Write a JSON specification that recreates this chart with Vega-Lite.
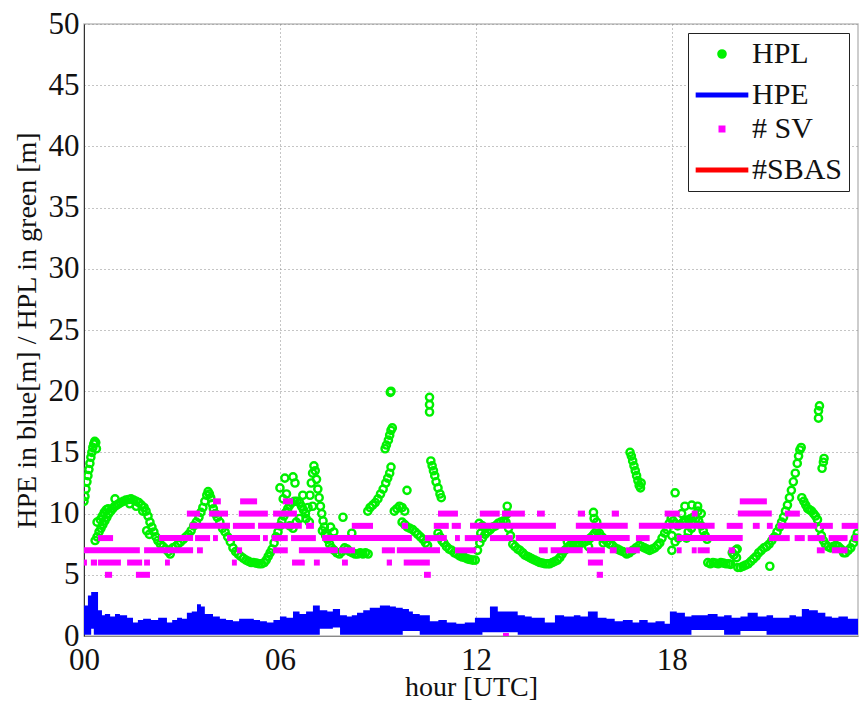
{
"$schema": "https://vega.github.io/schema/vega-lite/v6.json",
"width": 774, "height": 612,
"autosize": {"type": "none"},
"padding": {"left": 84, "top": 24, "right": 2, "bottom": 68},
"background": "white",
"config": {
  "font": "Liberation Serif",
  "style": {"guide-label": {"font": "Liberation Serif"}, "guide-title": {"font": "Liberation Serif"}},
  "view": {"stroke": "#bdbdbd", "strokeWidth": 1.5},
  "axis": {"labelFont": "Liberation Serif", "labelFontSize": 31, "labelColor": "#111", "titleFont": "Liberation Serif", "titleFontSize": 28, "titleFontWeight": "normal", "titleColor": "#111", "gridColor": "#8a8a8a", "gridDash": [1, 3], "gridWidth": 1, "ticks": false, "tickSize": 0, "labelOverlap": false, "labelFlush": false},
  "legend": {"orient": "none", "legendX": 604, "legendY": 9, "title": null, "labelFont": "Liberation Serif", "labelFontSize": 30, "labelColor": "#111", "padding": 6, "strokeColor": "#222", "fillColor": "white", "rowPadding": 4, "symbolOffset": 6, "labelOffset": 8, "symbolOpacity": 1}
},
"layer": [
{
  "data": {"values": [
{"h":0.00,"v":11.0},{"h":0.03,"v":11.4},{"h":0.06,"v":12.0},{"h":0.09,"v":12.6},{"h":0.12,"v":13.1},{"h":0.15,"v":13.6},{"h":0.18,"v":14.1},{"h":0.21,"v":14.6},{"h":0.24,"v":15.0},{"h":0.27,"v":15.4},{"h":0.30,"v":15.7},{"h":0.33,"v":15.9},{"h":0.36,"v":15.8},{"h":0.38,"v":15.3},
{"h":0.34,"v":7.8},{"h":0.40,"v":8.1},{"h":0.46,"v":8.5},{"h":0.52,"v":8.8},{"h":0.58,"v":9.1},{"h":0.64,"v":9.4},{"h":0.70,"v":9.7},{"h":0.76,"v":10.0},{"h":0.82,"v":10.2},{"h":0.88,"v":10.4},{"h":0.94,"v":10.6},{"h":1.00,"v":10.7},{"h":1.06,"v":10.8},{"h":1.12,"v":10.9},{"h":1.20,"v":11.0},{"h":1.28,"v":11.1},{"h":1.36,"v":11.15},{"h":1.44,"v":11.2},{"h":1.52,"v":11.1},{"h":1.60,"v":11.0},{"h":1.68,"v":10.9},{"h":1.76,"v":10.7},{"h":1.84,"v":10.5},{"h":1.90,"v":10.2},{"h":1.96,"v":9.8},{"h":2.02,"v":9.3},{"h":2.08,"v":8.9},{"h":2.14,"v":8.5},{"h":2.20,"v":8.1},{"h":2.26,"v":7.8},{"h":2.34,"v":7.5},{"h":2.42,"v":7.3},{"h":2.50,"v":7.1},{"h":2.58,"v":6.9},{"h":2.64,"v":6.7},
{"h":0.50,"v":9.5},{"h":0.56,"v":9.8},{"h":0.62,"v":10.1},{"h":0.68,"v":10.3},{"h":0.74,"v":10.4},{"h":0.40,"v":9.3},{"h":0.95,"v":11.2},{"h":1.92,"v":8.6},{"h":2.00,"v":8.3},{"h":1.40,"v":10.8},{"h":1.60,"v":10.6},{"h":1.80,"v":10.2},
{"h":2.72,"v":7.2},{"h":2.80,"v":7.3},{"h":2.88,"v":7.5},{"h":2.96,"v":7.7},{"h":3.04,"v":7.9},{"h":3.12,"v":8.1},{"h":3.20,"v":8.3},{"h":3.28,"v":8.6},{"h":3.36,"v":9.0},{"h":3.44,"v":9.3},{"h":3.52,"v":9.7},{"h":3.58,"v":10.1},{"h":3.64,"v":10.5},{"h":3.70,"v":11.0},{"h":3.76,"v":11.5},{"h":3.80,"v":11.8},{"h":3.84,"v":11.6},{"h":3.88,"v":11.3},{"h":3.92,"v":10.8},{"h":3.96,"v":10.4},{"h":4.02,"v":10.0},{"h":4.08,"v":9.7},{"h":4.16,"v":9.3},{"h":4.24,"v":8.8},{"h":4.32,"v":8.5},{"h":4.40,"v":8.1},{"h":4.48,"v":7.7},{"h":4.56,"v":7.2},{"h":4.64,"v":6.9},{"h":4.72,"v":6.7},{"h":4.80,"v":6.5},{"h":4.88,"v":6.35},{"h":4.96,"v":6.2},{"h":5.04,"v":6.1},{"h":5.12,"v":6.0},{"h":5.20,"v":6.0},{"h":5.28,"v":5.95},{"h":5.36,"v":5.9},{"h":5.44,"v":5.9},{"h":5.52,"v":6.0},{"h":5.58,"v":6.2},{"h":5.64,"v":6.5},{"h":5.70,"v":6.8},{"h":5.76,"v":7.1},{"h":5.82,"v":7.6},{"h":5.88,"v":8.1},{"h":5.94,"v":8.5},{"h":6.00,"v":9.0},{"h":6.06,"v":9.4},{"h":6.12,"v":9.8},{"h":6.18,"v":10.1},{"h":6.24,"v":10.4},
{"h":6.30,"v":10.7},{"h":6.36,"v":10.9},{"h":6.44,"v":11.0},{"h":6.52,"v":11.0},{"h":6.60,"v":10.9},{"h":6.66,"v":10.6},{"h":6.72,"v":10.3},{"h":6.78,"v":10.0},{"h":6.30,"v":9.0},{"h":6.40,"v":8.8},{"h":6.50,"v":9.3},{"h":6.60,"v":9.6},{"h":6.20,"v":11.6},{"h":6.10,"v":11.2},{"h":6.00,"v":12.1},{"h":6.15,"v":12.9},{"h":6.40,"v":13.0},{"h":6.46,"v":12.5},{"h":6.70,"v":11.5},{"h":6.80,"v":9.6},
{"h":6.86,"v":10.5},{"h":6.92,"v":11.5},{"h":6.96,"v":12.5},{"h":7.00,"v":13.3},{"h":7.04,"v":13.9},{"h":7.08,"v":13.5},{"h":7.12,"v":12.8},{"h":7.16,"v":12.0},{"h":7.20,"v":11.3},{"h":7.24,"v":10.6},{"h":7.28,"v":10.0},{"h":7.32,"v":9.4},{"h":7.36,"v":8.9},{"h":7.40,"v":8.4},{"h":7.46,"v":7.9},{"h":7.52,"v":7.5},{"h":7.58,"v":7.2},{"h":7.66,"v":7.0},{"h":7.74,"v":6.8},{"h":7.82,"v":6.7},{"h":7.90,"v":6.9},{"h":7.98,"v":7.2},{"h":8.06,"v":7.1},{"h":8.14,"v":6.9},{"h":8.22,"v":6.8},{"h":8.30,"v":6.7},{"h":8.38,"v":6.7},{"h":8.46,"v":6.8},{"h":8.54,"v":6.7},{"h":8.62,"v":6.8},{"h":8.70,"v":6.7},
{"h":7.30,"v":8.6},{"h":7.40,"v":8.2},{"h":7.55,"v":8.9},{"h":7.65,"v":8.5},{"h":7.93,"v":9.7},{"h":8.20,"v":8.4},{"h":7.00,"v":10.6},{"h":6.90,"v":9.3},
{"h":8.69,"v":10.2},{"h":8.76,"v":10.5},{"h":8.84,"v":10.7},{"h":8.92,"v":10.9},{"h":9.00,"v":11.2},{"h":9.08,"v":11.6},{"h":9.16,"v":12.0},{"h":9.24,"v":12.5},{"h":9.30,"v":12.9},{"h":9.36,"v":13.3},{"h":9.40,"v":13.8},{"h":9.22,"v":15.3},{"h":9.26,"v":15.6},{"h":9.32,"v":16.0},{"h":9.36,"v":16.4},{"h":9.40,"v":16.8},{"h":9.44,"v":17.0},{"h":9.38,"v":19.9},{"h":9.40,"v":20.0},
{"h":9.50,"v":10.2},{"h":9.58,"v":10.4},{"h":9.66,"v":10.6},{"h":9.74,"v":10.5},{"h":9.82,"v":10.2},{"h":9.89,"v":11.9},{"h":9.74,"v":9.3},{"h":9.82,"v":9.1},{"h":9.90,"v":8.9},{"h":9.98,"v":8.8},{"h":10.06,"v":8.7},{"h":10.14,"v":8.5},{"h":10.22,"v":8.3},{"h":10.30,"v":8.1},{"h":10.38,"v":7.9},{"h":10.46,"v":7.6},{"h":10.52,"v":7.4},
{"h":10.58,"v":19.5},{"h":10.58,"v":18.9},{"h":10.58,"v":18.3},{"h":10.62,"v":14.3},{"h":10.66,"v":13.9},{"h":10.70,"v":13.5},{"h":10.74,"v":13.1},{"h":10.78,"v":12.6},{"h":10.84,"v":12.1},{"h":10.90,"v":11.6},{"h":10.94,"v":11.3},
{"h":10.84,"v":8.4},{"h":10.90,"v":8.1},{"h":10.96,"v":7.8},{"h":11.02,"v":7.6},{"h":11.10,"v":7.3},{"h":11.18,"v":7.1},{"h":11.26,"v":7.0},{"h":11.34,"v":6.8},{"h":11.42,"v":6.7},{"h":11.50,"v":6.55},{"h":11.58,"v":6.45},{"h":11.66,"v":6.4},{"h":11.74,"v":6.3},{"h":11.82,"v":6.25},{"h":11.90,"v":6.2},{"h":11.98,"v":6.2},
{"h":12.05,"v":7.0},{"h":12.12,"v":7.6},{"h":12.20,"v":8.0},{"h":12.28,"v":8.3},{"h":12.36,"v":8.5},{"h":12.44,"v":8.7},{"h":12.52,"v":8.9},{"h":12.60,"v":9.0},{"h":12.68,"v":9.2},{"h":12.76,"v":9.3},{"h":12.84,"v":9.4},{"h":12.92,"v":9.3},{"h":12.96,"v":10.0},{"h":12.96,"v":10.6},{"h":13.00,"v":8.8},{"h":13.06,"v":8.2},{"h":13.13,"v":7.5},{"h":13.20,"v":7.3},{"h":13.28,"v":7.1},{"h":13.35,"v":7.0},{"h":13.43,"v":6.8},{"h":13.50,"v":6.6},{"h":13.58,"v":6.5},{"h":13.65,"v":6.4},{"h":13.72,"v":6.3},{"h":13.80,"v":6.2},{"h":13.88,"v":6.1},{"h":13.96,"v":6.0},{"h":14.04,"v":5.95},{"h":14.12,"v":5.9},{"h":14.20,"v":5.9},{"h":14.26,"v":5.9},{"h":14.34,"v":6.0},{"h":14.42,"v":6.1},{"h":14.50,"v":6.2},{"h":14.57,"v":6.4},{"h":14.64,"v":6.7},{"h":14.72,"v":7.0},{"h":14.80,"v":7.2},{"h":14.88,"v":7.4},{"h":14.96,"v":7.45},{"h":15.04,"v":7.5},{"h":15.12,"v":7.5},{"h":15.18,"v":7.5},{"h":15.26,"v":7.6},{"h":15.34,"v":7.7},{"h":15.43,"v":7.8},{"h":15.50,"v":8.0},{"h":15.58,"v":8.2},{"h":15.64,"v":8.4},{"h":15.70,"v":8.6},{"h":15.78,"v":8.4},{"h":15.86,"v":8.1},{"h":15.94,"v":7.9},{"h":16.02,"v":7.7},{"h":16.10,"v":7.5},{"h":16.18,"v":7.4},{"h":16.26,"v":7.2},{"h":16.34,"v":7.1},{"h":16.41,"v":7.0},{"h":16.50,"v":6.9},{"h":16.58,"v":6.8},{"h":16.62,"v":6.7},
{"h":12.10,"v":9.2},{"h":12.20,"v":9.0},{"h":12.30,"v":8.8},{"h":12.15,"v":8.4},{"h":15.60,"v":10.1},{"h":15.62,"v":9.6},{"h":15.70,"v":9.3},{"h":14.80,"v":7.7},{"h":15.00,"v":7.8},{"h":15.45,"v":7.3},{"h":15.90,"v":7.6},
{"h":16.72,"v":15.0},{"h":16.76,"v":14.7},{"h":16.80,"v":14.3},{"h":16.84,"v":13.9},{"h":16.88,"v":13.5},{"h":16.92,"v":13.1},{"h":16.96,"v":12.7},{"h":17.00,"v":12.3},{"h":17.04,"v":12.1},{"h":17.06,"v":12.5},
{"h":16.70,"v":6.8},{"h":16.80,"v":7.0},{"h":16.90,"v":7.2},{"h":17.00,"v":7.4},{"h":17.08,"v":7.3},{"h":17.16,"v":7.2},{"h":17.24,"v":7.1},{"h":17.32,"v":7.0},{"h":17.40,"v":7.1},{"h":17.48,"v":7.2},{"h":17.56,"v":7.4},{"h":17.63,"v":7.6},{"h":17.70,"v":8.0},{"h":17.78,"v":8.4},{"h":17.85,"v":8.7},{"h":17.92,"v":9.2},{"h":17.98,"v":9.6},{"h":18.04,"v":9.4},{"h":18.10,"v":9.2},{"h":18.18,"v":9.0},{"h":18.26,"v":9.1},{"h":18.34,"v":9.3},{"h":18.42,"v":9.4},{"h":18.50,"v":9.5},{"h":18.58,"v":9.6},{"h":18.66,"v":9.7},{"h":18.74,"v":9.6},{"h":18.82,"v":9.4},{"h":18.90,"v":9.0},{"h":18.96,"v":8.6},{"h":19.02,"v":8.2},{"h":19.08,"v":7.9},
{"h":18.00,"v":8.2},{"h":18.20,"v":8.0},{"h":18.30,"v":10.0},{"h":18.50,"v":8.5},{"h":18.60,"v":8.8},{"h":18.80,"v":10.2},{"h":18.10,"v":7.7},{"h":18.45,"v":8.0},{"h":18.10,"v":11.7},{"h":18.40,"v":10.6},{"h":18.61,"v":10.7},{"h":18.79,"v":10.6},{"h":18.00,"v":7.0},{"h":18.90,"v":10.0},
{"h":19.10,"v":6.0},{"h":19.18,"v":5.9},{"h":19.26,"v":6.0},{"h":19.34,"v":5.95},{"h":19.42,"v":5.9},{"h":19.50,"v":6.0},{"h":19.58,"v":5.95},{"h":19.66,"v":5.9},{"h":19.74,"v":5.9},{"h":19.80,"v":5.85},
{"h":19.85,"v":6.8},{"h":19.90,"v":6.6},{"h":19.95,"v":7.0},{"h":19.98,"v":6.4},{"h":20.00,"v":7.1},
{"h":20.02,"v":5.6},{"h":20.10,"v":5.6},{"h":20.18,"v":5.7},{"h":20.26,"v":5.8},{"h":20.34,"v":5.9},{"h":20.42,"v":6.1},{"h":20.50,"v":6.3},{"h":20.58,"v":6.5},{"h":20.66,"v":6.8},{"h":20.74,"v":7.0},{"h":20.82,"v":7.2},{"h":20.90,"v":7.3},{"h":20.98,"v":7.5},{"h":21.06,"v":7.8},{"h":21.14,"v":8.1},{"h":21.22,"v":8.5},{"h":21.30,"v":8.9},{"h":21.36,"v":9.3},{"h":21.42,"v":9.7},{"h":21.48,"v":10.2},{"h":21.54,"v":10.7},{"h":21.60,"v":11.3},{"h":21.66,"v":11.9},{"h":21.72,"v":12.6},{"h":21.78,"v":13.3},{"h":21.84,"v":14.1},{"h":21.88,"v":14.7},{"h":21.92,"v":15.2},{"h":21.96,"v":15.4},{"h":21.00,"v":5.7},
{"h":21.98,"v":11.3},{"h":22.04,"v":11.0},{"h":22.10,"v":10.7},{"h":22.16,"v":10.4},{"h":22.22,"v":10.3},{"h":22.28,"v":10.2},{"h":22.34,"v":10.0},{"h":22.40,"v":9.8},{"h":22.46,"v":9.5},
{"h":22.52,"v":18.8},{"h":22.49,"v":18.4},{"h":22.49,"v":17.8},{"h":22.66,"v":14.5},{"h":22.64,"v":14.2},{"h":22.60,"v":13.7},
{"h":22.52,"v":8.8},{"h":22.58,"v":8.2},{"h":22.64,"v":7.8},{"h":22.70,"v":7.5},{"h":22.78,"v":7.3},{"h":22.86,"v":7.2},{"h":22.94,"v":7.3},{"h":23.02,"v":7.4},{"h":23.10,"v":7.3},{"h":23.18,"v":7.1},{"h":23.26,"v":6.8},{"h":23.32,"v":6.8},{"h":23.40,"v":7.0},{"h":23.48,"v":7.2},{"h":23.56,"v":7.6},{"h":23.62,"v":8.0},{"h":23.68,"v":8.4}
  ]},
  "mark": {"type": "point", "filled": false, "opacity": 1, "clip": true},
  "encoding": {
    "x": {"field": "h", "type": "quantitative", "scale": {"domain": [0, 23.7], "nice": false, "zero": false},
          "axis": {"values": [0, 6, 12, 18], "labelExpr": "datum.value < 10 ? '0' + datum.value : '' + datum.value", "title": "hour [UTC]", "grid": true, "domainColor": "#888", "labelPadding": 9, "titlePadding": -2, "labelFont": "Liberation Serif", "labelFontSize": 31, "titleFont": "Liberation Serif"}},
    "y": {"field": "v", "type": "quantitative", "scale": {"domain": [0, 50], "nice": false},
          "axis": {"values": [0, 5, 10, 15, 20, 25, 30, 35, 40, 45, 50], "title": "HPE in blue[m] / HPL in green [m]", "grid": true, "domainColor": "#333", "labelPadding": 5, "titlePadding": 7, "labelFont": "Liberation Serif", "labelFontSize": 31, "titleFont": "Liberation Serif"}},
    "color": {"datum": "HPL", "type": "nominal", "scale": {"domain": ["HPL", "HPE", "# SV", "#SBAS"], "range": ["#00f000", "#0000ff", "#ff00ff", "#ff0000"]}},
    "shape": {"datum": "HPL", "type": "nominal", "scale": {"domain": ["HPL", "HPE", "# SV", "#SBAS"], "range": ["circle", "M-1.35,0H1.35", "square", "M-1.35,0H1.35"]}},
    "size": {"datum": "HPL", "type": "nominal", "scale": {"type": "ordinal", "domain": ["HPL", "HPE", "# SV", "#SBAS"], "range": [52, 1521, 30, 1521]}},
    "strokeWidth": {"datum": "HPL", "type": "nominal", "scale": {"type": "ordinal", "domain": ["HPL", "HPE", "# SV", "#SBAS"], "range": [2.4, 5, 1.5, 5]}}
  }
},
{
  "data": {"values": [
{"h":0.00,"v":2.5,"lo":0.1},{"h":0.12,"v":3.3,"lo":0.1},{"h":0.22,"v":3.6,"lo":0.6},{"h":0.30,"v":3.6,"lo":0.1},{"h":0.43,"v":2.1,"lo":0.1},{"h":0.55,"v":1.7,"lo":0.1},{"h":0.64,"v":1.8,"lo":0.1},{"h":0.80,"v":1.6,"lo":0.1},{"h":0.95,"v":1.8,"lo":0.1},{"h":1.10,"v":1.7,"lo":0.1},{"h":1.32,"v":1.5,"lo":0.1},{"h":1.50,"v":1.1,"lo":0.1},{"h":1.65,"v":1.3,"lo":0.1},{"h":1.81,"v":1.4,"lo":0.1},{"h":2.05,"v":1.3,"lo":0.1},{"h":2.27,"v":1.5,"lo":0.1},{"h":2.54,"v":1.1,"lo":0.1},{"h":2.70,"v":1.3,"lo":0.1},{"h":2.85,"v":1.5,"lo":0.1},{"h":3.00,"v":1.4,"lo":0.1},{"h":3.15,"v":1.9,"lo":0.1},{"h":3.30,"v":2.0,"lo":0.1},{"h":3.46,"v":2.6,"lo":0.1},{"h":3.58,"v":2.4,"lo":0.1},{"h":3.70,"v":1.8,"lo":0.1},{"h":3.95,"v":1.6,"lo":0.1},{"h":4.16,"v":1.4,"lo":0.1},{"h":4.35,"v":1.3,"lo":0.1},{"h":4.56,"v":1.2,"lo":0.1},{"h":4.75,"v":1.4,"lo":0.1},{"h":4.99,"v":1.4,"lo":0.1},{"h":5.20,"v":1.3,"lo":0.1},{"h":5.39,"v":1.2,"lo":0.1},{"h":5.60,"v":1.1,"lo":0.1},{"h":5.80,"v":1.3,"lo":0.1},{"h":6.00,"v":1.6,"lo":0.1},{"h":6.20,"v":1.5,"lo":0.1},{"h":6.40,"v":2.0,"lo":0.1},{"h":6.60,"v":1.8,"lo":0.1},{"h":6.80,"v":2.0,"lo":0.1},{"h":7.01,"v":2.5,"lo":0.1},{"h":7.22,"v":2.1,"lo":0.6},{"h":7.45,"v":2.0,"lo":0.6},{"h":7.62,"v":2.2,"lo":0.7},{"h":7.84,"v":1.7,"lo":0.1},{"h":8.05,"v":1.6,"lo":0.1},{"h":8.20,"v":1.7,"lo":0.1},{"h":8.36,"v":1.9,"lo":0.1},{"h":8.55,"v":2.1,"lo":0.1},{"h":8.75,"v":2.3,"lo":0.1},{"h":9.06,"v":2.5,"lo":0.1},{"h":9.37,"v":2.4,"lo":0.1},{"h":9.55,"v":2.3,"lo":0.1},{"h":9.76,"v":2.2,"lo":0.4},{"h":9.95,"v":2.0,"lo":0.4},{"h":10.07,"v":1.8,"lo":0.4},{"h":10.28,"v":1.7,"lo":0.1},{"h":10.59,"v":1.2,"lo":0.1},{"h":10.85,"v":1.3,"lo":0.1},{"h":11.11,"v":1.1,"lo":0.1},{"h":11.40,"v":1.0,"lo":0.1},{"h":11.66,"v":1.1,"lo":0.1},{"h":11.97,"v":1.5,"lo":0.1},{"h":12.20,"v":1.5,"lo":0.3},{"h":12.43,"v":2.4,"lo":0.3},{"h":12.67,"v":2.0,"lo":0.3},{"h":13.00,"v":2.0,"lo":0.3},{"h":13.28,"v":1.7,"lo":0.1},{"h":13.50,"v":1.6,"lo":0.1},{"h":13.71,"v":1.5,"lo":0.1},{"h":14.11,"v":1.1,"lo":0.1},{"h":14.42,"v":1.7,"lo":0.1},{"h":14.70,"v":1.6,"lo":0.1},{"h":15.00,"v":1.7,"lo":0.1},{"h":15.20,"v":1.6,"lo":0.1},{"h":15.43,"v":2.0,"lo":0.1},{"h":15.73,"v":1.5,"lo":0.1},{"h":16.00,"v":1.4,"lo":0.1},{"h":16.25,"v":1.2,"lo":0.1},{"h":16.50,"v":1.3,"lo":0.1},{"h":16.80,"v":1.1,"lo":0.1},{"h":17.00,"v":1.3,"lo":0.1},{"h":17.26,"v":1.1,"lo":0.1},{"h":17.50,"v":1.2,"lo":0.1},{"h":17.78,"v":1.0,"lo":0.1},{"h":17.94,"v":2.0,"lo":0.1},{"h":18.15,"v":1.9,"lo":0.1},{"h":18.40,"v":1.6,"lo":0.1},{"h":18.60,"v":1.7,"lo":0.5},{"h":18.79,"v":1.7,"lo":0.5},{"h":19.10,"v":1.8,"lo":0.5},{"h":19.40,"v":1.6,"lo":0.5},{"h":19.60,"v":1.7,"lo":0.1},{"h":19.83,"v":1.5,"lo":0.1},{"h":20.10,"v":1.6,"lo":0.4},{"h":20.32,"v":1.9,"lo":0.4},{"h":20.63,"v":1.6,"lo":0.4},{"h":20.90,"v":1.7,"lo":0.1},{"h":21.10,"v":1.5,"lo":0.1},{"h":21.36,"v":1.5,"lo":0.1},{"h":21.60,"v":1.7,"lo":0.1},{"h":21.80,"v":1.6,"lo":0.1},{"h":21.98,"v":2.2,"lo":0.1},{"h":22.20,"v":2.1,"lo":0.1},{"h":22.47,"v":1.9,"lo":0.1},{"h":22.70,"v":1.6,"lo":0.1},{"h":22.90,"v":1.5,"lo":0.1},{"h":23.10,"v":1.6,"lo":0.1},{"h":23.39,"v":1.4,"lo":0.1},{"h":23.70,"v":1.4,"lo":0.1}
  ]},
  "mark": {"type": "area", "interpolate": "step-after", "opacity": 1, "clip": true},
  "encoding": {
    "x": {"field": "h", "type": "quantitative"},
    "y": {"field": "v", "type": "quantitative"},
    "y2": {"field": "lo"},
    "color": {"datum": "HPE", "type": "nominal"}
  }
},
{
  "data": {"values": [
{"h":0.64,"h2":0.86,"v":5},{"h":1.59,"h2":2.02,"v":5},{"h":10.41,"h2":10.62,"v":5},{"h":15.70,"h2":15.89,"v":5},{"h":12.83,"h2":13.01,"v":0},
{"h":0.0,"h2":0.09,"v":6},{"h":0.21,"h2":0.40,"v":6},{"h":0.43,"h2":1.13,"v":6},{"h":1.32,"h2":1.78,"v":6},{"h":1.84,"h2":2.02,"v":6},{"h":2.48,"h2":2.63,"v":6},{"h":4.53,"h2":4.68,"v":6},{"h":6.37,"h2":6.76,"v":6},{"h":7.04,"h2":7.22,"v":6},{"h":7.90,"h2":8.08,"v":6},{"h":9.27,"h2":9.43,"v":6},{"h":9.79,"h2":10.59,"v":6},{"h":15.43,"h2":15.89,"v":6},
{"h":0.0,"h2":1.71,"v":7},{"h":1.84,"h2":3.34,"v":7},{"h":3.46,"h2":3.64,"v":7},{"h":4.68,"h2":4.84,"v":7},{"h":5.79,"h2":6.24,"v":7},{"h":6.58,"h2":7.77,"v":7},{"h":7.81,"h2":8.30,"v":7},{"h":9.12,"h2":9.52,"v":7},{"h":9.58,"h2":10.90,"v":7},{"h":11.36,"h2":12.0,"v":7},{"h":13.93,"h2":14.20,"v":7},{"h":14.29,"h2":15.27,"v":7},{"h":15.40,"h2":15.95,"v":7},{"h":16.10,"h2":16.31,"v":7},{"h":16.59,"h2":17.02,"v":7},{"h":18.15,"h2":18.30,"v":7},{"h":18.61,"h2":18.76,"v":7},{"h":18.79,"h2":19.16,"v":7},{"h":19.74,"h2":19.93,"v":7},{"h":22.44,"h2":22.68,"v":7},{"h":22.90,"h2":23.38,"v":7},
{"h":0.43,"h2":0.89,"v":8},{"h":2.30,"h2":3.34,"v":8},{"h":3.40,"h2":3.86,"v":8},{"h":3.95,"h2":4.10,"v":8},{"h":4.38,"h2":5.39,"v":8},{"h":5.48,"h2":5.63,"v":8},{"h":5.75,"h2":6.24,"v":8},{"h":6.34,"h2":7.10,"v":8},{"h":7.29,"h2":10.04,"v":8},{"h":10.44,"h2":11.11,"v":8},{"h":11.36,"h2":11.51,"v":8},{"h":11.66,"h2":12.18,"v":8},{"h":12.43,"h2":13.13,"v":8},{"h":13.22,"h2":16.71,"v":8},{"h":16.90,"h2":17.32,"v":8},{"h":18.15,"h2":20.17,"v":8},{"h":20.97,"h2":21.61,"v":8},{"h":21.76,"h2":22.07,"v":8},{"h":22.16,"h2":22.68,"v":8},{"h":22.80,"h2":23.38,"v":8},{"h":23.54,"h2":23.7,"v":8},
{"h":3.24,"h2":4.47,"v":9},{"h":4.56,"h2":5.23,"v":9},{"h":5.33,"h2":6.67,"v":9},{"h":6.80,"h2":7.04,"v":9},{"h":8.20,"h2":8.85,"v":9},{"h":9.73,"h2":9.92,"v":9},{"h":10.71,"h2":11.17,"v":9},{"h":11.26,"h2":11.54,"v":9},{"h":11.82,"h2":14.45,"v":9},{"h":15.06,"h2":16.65,"v":9},{"h":16.99,"h2":19.31,"v":9},{"h":19.68,"h2":20.17,"v":9},{"h":20.48,"h2":20.69,"v":9},{"h":20.91,"h2":21.09,"v":9},{"h":21.24,"h2":22.44,"v":9},{"h":22.53,"h2":22.93,"v":9},{"h":23.20,"h2":23.7,"v":9},
{"h":3.15,"h2":3.55,"v":10},{"h":3.83,"h2":4.41,"v":10},{"h":4.74,"h2":5.63,"v":10},{"h":5.79,"h2":6.52,"v":10},{"h":10.84,"h2":11.45,"v":10},{"h":12.12,"h2":12.73,"v":10},{"h":12.80,"h2":13.50,"v":10},{"h":13.87,"h2":14.11,"v":10},{"h":15.12,"h2":15.34,"v":10},{"h":16.16,"h2":16.38,"v":10},{"h":17.78,"h2":18.24,"v":10},{"h":18.61,"h2":18.79,"v":10},{"h":20.02,"h2":21.06,"v":10},{"h":21.46,"h2":21.92,"v":10},
{"h":3.95,"h2":4.19,"v":11},{"h":4.78,"h2":5.30,"v":11},{"h":6.09,"h2":6.40,"v":11},{"h":20.08,"h2":20.91,"v":11}
  ]},
  "mark": {"type": "rule", "strokeCap": "butt", "opacity": 1, "clip": true},
  "encoding": {
    "x": {"field": "h", "type": "quantitative"},
    "x2": {"field": "h2"},
    "y": {"field": "v", "type": "quantitative"},
    "color": {"datum": "# SV", "type": "nominal"},
    "strokeWidth": {"value": 6}
  }
},
{
  "mark": {"type": "rule", "opacity": 1},
  "encoding": {
    "y": {"datum": 36.1},
    "color": {"datum": "#SBAS", "type": "nominal"},
    "strokeWidth": {"value": 5}
  }
}
]
}
